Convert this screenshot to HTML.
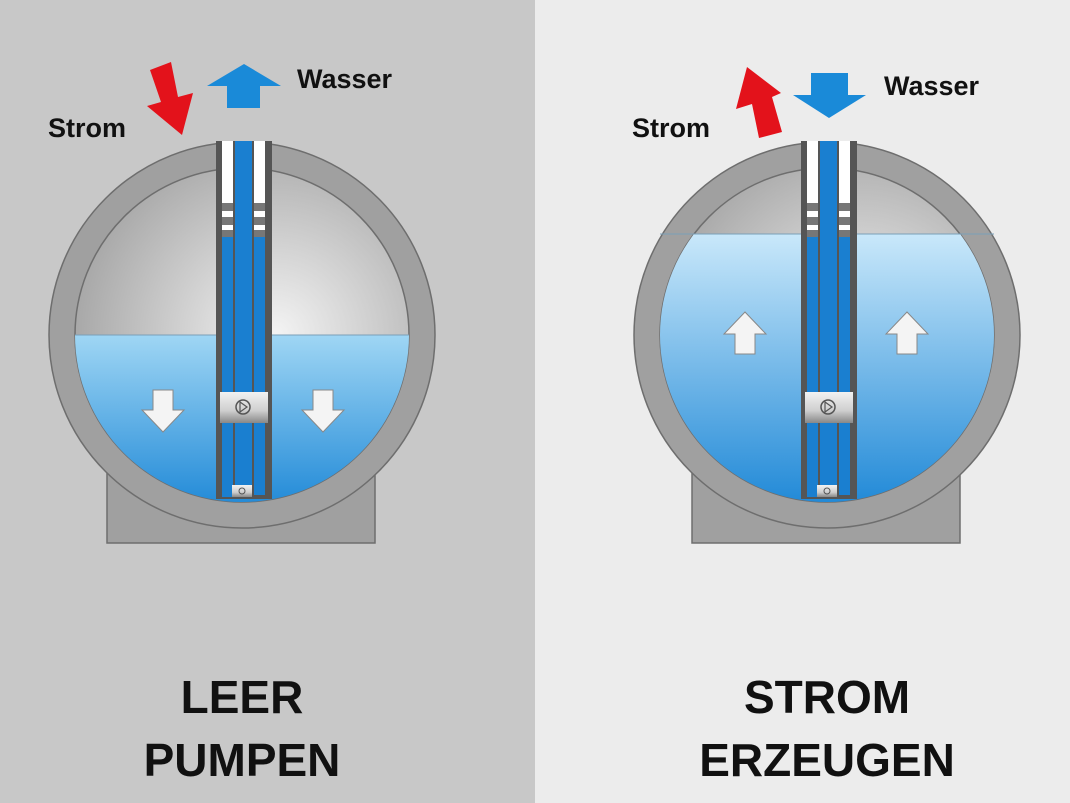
<!DOCTYPE html>
<html><head><meta charset="utf-8"><style>
html,body{margin:0;padding:0;width:1070px;height:803px;overflow:hidden;background:#ececec}
svg{display:block}
text{font-family:"Liberation Sans",sans-serif;font-weight:bold;fill:#111}
</style></head><body>
<svg width="1070" height="803" viewBox="0 0 1070 803" xmlns="http://www.w3.org/2000/svg">
<defs>
<linearGradient id="water" x1="0" y1="0" x2="0" y2="1">
<stop offset="0" stop-color="#9fd6f4"/><stop offset="1" stop-color="#1b86d6"/></linearGradient>
<linearGradient id="water2" x1="0" y1="0" x2="0" y2="1">
<stop offset="0" stop-color="#c9e8fa"/><stop offset="1" stop-color="#1b86d6"/></linearGradient>
<radialGradient id="air" cx="0.6" cy="0.5" r="0.6">
<stop offset="0" stop-color="#f4f4f4"/><stop offset="1" stop-color="#a8a8a8"/></radialGradient>
<linearGradient id="band" x1="0" y1="0" x2="0" y2="1">
<stop offset="0" stop-color="#f2f2f2"/><stop offset="0.6" stop-color="#cfcfcf"/><stop offset="1" stop-color="#888"/></linearGradient>
<clipPath id="inner"><circle cx="0" cy="335" r="167"/></clipPath>
<g id="shell">
<rect x="-135" y="465" width="268" height="78" fill="#a0a0a0" stroke="#6e6e6e" stroke-width="1.5"/>
<circle cx="0" cy="335" r="193" fill="#a0a0a0" stroke="#6e6e6e" stroke-width="1.5"/>
<circle cx="0" cy="335" r="167" fill="url(#air)" stroke="#6e6e6e" stroke-width="1.5"/>
</g>
<g id="shaft">
<rect x="-26" y="141" width="56" height="358" fill="#555"/>
<rect x="-20" y="141" width="11" height="96" fill="#fff"/>
<rect x="12" y="141" width="11" height="96" fill="#fff"/>
<rect x="-20" y="237" width="11" height="260" fill="#1a7fd0"/>
<rect x="12" y="237" width="11" height="258" fill="#1a7fd0"/>
<rect x="-7" y="141" width="17" height="356" fill="#1a7fd0"/>
<rect x="-20" y="203" width="11" height="8" fill="#777"/><rect x="12" y="203" width="11" height="8" fill="#777"/>
<rect x="-20" y="217" width="11" height="8" fill="#777"/><rect x="12" y="217" width="11" height="8" fill="#777"/>
<rect x="-20" y="230" width="11" height="7" fill="#777"/><rect x="12" y="230" width="11" height="7" fill="#777"/>
<rect x="-22" y="392" width="48" height="31" fill="url(#band)"/>
<circle cx="1" cy="407" r="7" fill="none" stroke="#555" stroke-width="1.5"/>
<path d="M-2 402 L5 407 L-2 412 Z" fill="none" stroke="#555" stroke-width="1.2"/>
<rect x="-10" y="485" width="20" height="12" fill="url(#band)"/>
<circle cx="0" cy="491" r="3" fill="none" stroke="#555"/>
</g>
<path id="wdown" d="M-10 0 H10 V20 H21 L0 42 L-21 20 H-10 Z" fill="#f4f4f4" stroke="#888" stroke-width="1"/>
<path id="wup" d="M-10 42 H10 V22 H21 L0 0 L-21 22 H-10 Z" fill="#f4f4f4" stroke="#888" stroke-width="1"/>
</defs>
<rect x="0" y="0" width="535" height="803" fill="#c8c8c8"/>
<rect x="535" y="0" width="535" height="803" fill="#ececec"/>

<g transform="translate(242,0)">
<use href="#shell"/>
<rect x="-170" y="335" width="340" height="180" fill="url(#water)" clip-path="url(#inner)"/>
<line x1="-167" y1="335" x2="167" y2="335" stroke="#7a9fb8" stroke-width="1"/>
<use href="#shaft"/>
<use href="#wdown" transform="translate(-79,390)"/>
<use href="#wdown" transform="translate(81,390)"/>
</g>
<g transform="translate(827,0)">
<use href="#shell"/>
<rect x="-170" y="234" width="340" height="280" fill="url(#water2)" clip-path="url(#inner)"/>
<line x1="-167" y1="234" x2="167" y2="234" stroke="#7a9fb8" stroke-width="1"/>
<use href="#shaft"/>
<use href="#wup" transform="translate(-82,312)"/>
<use href="#wup" transform="translate(80,312)"/>
</g>

<path d="M150 70 L171 62 L178 97 L193 93 L182 135 L147 106 L161 102 Z" fill="#e3121b"/>
<path d="M227 108 H260 V86 H281 L244 64 L207 86 H227 Z" fill="#1a8ad8"/>
<text x="297" y="88" font-size="27">Wasser</text>
<text x="48" y="137" font-size="27">Strom</text>
<path d="M759 138 L782 132 L772 97 L781 93 L747 67 L736 109 L752 104 Z" fill="#e3121b"/>
<path d="M811 73 H848 V95 H866 L829 118 L793 95 H811 Z" fill="#1a8ad8"/>
<text x="884" y="95" font-size="27">Wasser</text>
<text x="632" y="137" font-size="27">Strom</text>

<text x="242" y="713" font-size="46" text-anchor="middle">LEER</text>
<text x="242" y="776" font-size="46" text-anchor="middle">PUMPEN</text>
<text x="827" y="713" font-size="46" text-anchor="middle">STROM</text>
<text x="827" y="776" font-size="46" text-anchor="middle">ERZEUGEN</text>
</svg>
</body></html>
